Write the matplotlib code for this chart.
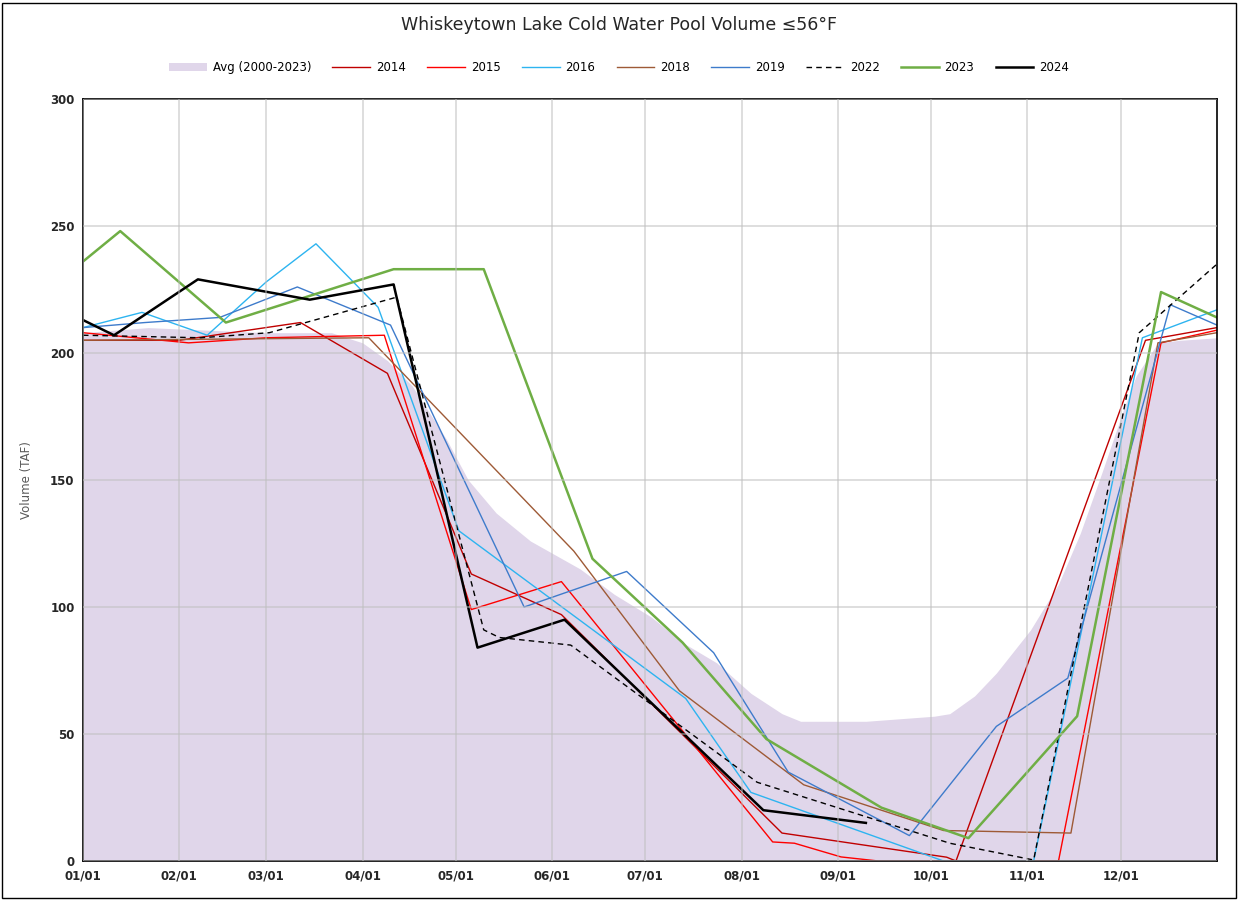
import matplotlib
matplotlib.use("Agg")
import matplotlib.pyplot as plt
from matplotlib.patches import Rectangle

# day of year (0 = Jan 1) and volume (TAF)
avg_day = [0, 21, 59, 80, 90, 98, 106, 117, 124, 133, 144, 160, 171, 183, 193,
           204, 215, 225, 231, 252, 274, 279, 287, 294, 305, 314, 321, 328, 335,
           339, 346, 353, 365]
avg_val = [208, 210, 208, 208, 204, 197, 187, 166, 150, 137, 126, 115, 105, 96, 86,
           78, 66, 58, 55, 55, 57, 58, 65, 74, 91, 109, 129, 153, 178,
           191, 204, 205, 206]

d2014 = [0, 31, 70, 98, 125, 154, 225, 278, 281, 342, 365]
v2014 = [205, 205, 212, 192, 113, 97, 11, 1.5, 0, 205, 210]

d2015 = [0, 34, 59, 97, 125, 154, 222, 229, 244, 256, 314, 347, 365]
v2015 = [208, 204, 206, 207, 99, 110, 7.5, 7, 1.6, 0, 0, 204, 209]

d2016 = [0, 19, 40, 59, 75, 95, 121, 194, 215, 277, 306, 341, 365]
v2016 = [210, 216, 207, 228, 243, 218, 130, 64, 27, 0, 0, 206, 217]

d2018 = [0, 92, 158, 192, 232, 277, 318, 346, 365]
v2018 = [205, 206, 122, 67, 30, 12, 11, 204, 208]

d2019 = [0, 20, 44, 69, 99, 142, 175, 203, 227, 266, 294, 317, 350, 365]
v2019 = [210, 212, 214, 226, 211, 100, 114, 82, 35, 10, 53, 72, 219, 211]

d2022 = [0, 38, 60, 101, 129, 134, 157, 217, 279, 306, 340, 365]
v2022 = [207, 206, 208, 222, 91, 88, 85, 31, 7, 0.4, 208, 235]

d2023 = [0, 12, 46, 100, 129, 164, 193, 220, 257, 285, 320, 347, 365]
v2023 = [236, 248, 212, 233, 233, 119, 86, 48, 21, 9, 57, 224, 214]

d2024 = [0, 10, 37, 73, 100, 127, 155, 219, 252]
v2024 = [213, 207, 229, 221, 227, 84, 95, 20, 15]

month_days = [0, 31, 59, 90, 120, 151, 181, 212, 243, 273, 304, 334]
month_labels = ["01/01", "02/01", "03/01", "04/01", "05/01", "06/01",
                "07/01", "08/01", "09/01", "10/01", "11/01", "12/01"]

fig = plt.figure(figsize=(12.38, 9.01), dpi=100)
ax = fig.add_axes([0.067, 0.0444, 0.916, 0.8457])

ax.fill_between(avg_day, avg_val, 0, color="#E0D6EA", linewidth=0, label="Avg (2000-2023)")
ax.plot(d2014, v2014, color="#C00000", lw=1.0, label="2014")
ax.plot(d2015, v2015, color="#FF0000", lw=1.0, label="2015")
ax.plot(d2016, v2016, color="#2DB4F0", lw=1.0, label="2016")
ax.plot(d2018, v2018, color="#9E5A36", lw=1.0, label="2018")
ax.plot(d2019, v2019, color="#3E7BCB", lw=1.0, label="2019")
ax.plot(d2022, v2022, color="black", lw=1.0, ls=(0, (4, 3)), label="2022")
ax.plot(d2023, v2023, color="#6FAE45", lw=1.8, label="2023")
ax.plot(d2024, v2024, color="black", lw=1.8, label="2024")

ax.set_xlim(0, 365)
ax.set_ylim(0, 300)
ax.set_xticks(month_days)
ax.set_xticklabels(month_labels)
ax.set_yticks(range(0, 301, 50))
# grid drawn over the avg fill, under the lines
ax.grid(True, color="#BFBFBF", alpha=0.6, lw=1.2)
ax.set_axisbelow(False)
for g in ax.get_xgridlines() + ax.get_ygridlines():
    g.set_zorder(1.5)
ax.tick_params(length=0, labelsize=8.5, labelcolor="#262626", pad=6)
for lab in ax.get_xticklabels() + ax.get_yticklabels():
    lab.set_fontweight("bold")
for s in ax.spines.values():
    s.set_color("black")
    s.set_linewidth(1.2)

ax.set_ylabel("Volume (TAF)", fontsize=8.5, color="#595959", labelpad=12)

fig.text(0.5, 0.972, "Whiskeytown Lake Cold Water Pool Volume \u226456\u00b0F",
         ha="center", va="center", fontsize=12.5, color="#262626")

fig.legend(loc="center", bbox_to_anchor=(0.5, 0.925), ncol=9, frameon=False,
           fontsize=8.5, handlelength=3.2, columnspacing=1.8, handletextpad=0.5)

fig.patches.append(Rectangle((0.002, 0.003), 0.996, 0.994, transform=fig.transFigure,
                             fill=False, edgecolor="black", lw=1.0))

fig.savefig("out.png", dpi=100)
